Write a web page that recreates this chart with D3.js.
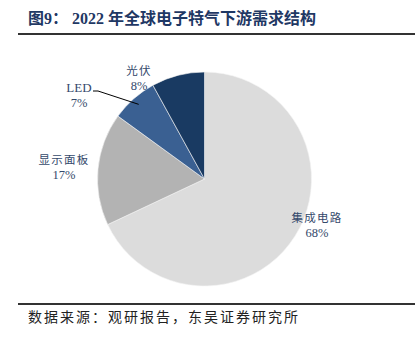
<!DOCTYPE html>
<html><head><meta charset="utf-8">
<script src="https://cdn.jsdelivr.net/npm/d3@7"></script>
<style>body{margin:0;background:#fff}</style>
</head><body>
<svg id="c" width="419" height="346"></svg>
<script>
const categories = ["集成电路", "显示面板", "LED", "光伏"];
const values = [68, 17, 7, 8];
const labels = ["68%", "17%", "7%", "8%"];
const colors = ["#dcdcdc", "#b3b3b3", "#3a6092", "#193a62"];

const svg = d3.select("#c");
const serif = "'Liberation Serif','Times New Roman','Noto Sans CJK SC',serif";

svg.append("text").attr("x", 28).attr("y", 24)
  .attr("font-family", serif).attr("font-weight", "bold").attr("font-size", 16)
  .attr("fill", "#1f3864").text("图9： 2022 年全球电子特气下游需求结构");
svg.append("line").attr("x1", 18).attr("x2", 415).attr("y1", 34).attr("y2", 34)
  .attr("stroke", "#333").attr("stroke-width", 2);
svg.append("line").attr("x1", 18).attr("x2", 415).attr("y1", 304).attr("y2", 304)
  .attr("stroke", "#333").attr("stroke-width", 2);
svg.append("text").attr("x", 28).attr("y", 322)
  .attr("font-family", serif).attr("font-size", 14).attr("letter-spacing", 2)
  .attr("fill", "#222").text("数据来源：观研报告，东吴证券研究所");

const cx = 204.5, cy = 179, r = 107;
const pie = d3.pie().sort(null).value(d => d)(values);
const arc = d3.arc().innerRadius(0).outerRadius(r);
const g = svg.append("g").attr("transform", `translate(${cx},${cy})`);
g.selectAll("path").data(pie).join("path")
  .attr("d", arc).attr("fill", (d, i) => colors[i])
  .attr("stroke", "#f4f4f4").attr("stroke-width", 0.6);

const labelPos = [[317, 222], [64, 164], [79, 92], [139, 75]];
const lab = svg.append("g").attr("font-family", serif).attr("fill", "#34496b")
  .attr("text-anchor", "middle");
categories.forEach((c, i) => {
  const [x, y] = labelPos[i];
  const isLatin = /^[A-Za-z]+$/.test(c);
  lab.append("text").attr("x", x).attr("y", y).attr("font-size", isLatin ? 13 : 11.5)
    .attr("letter-spacing", isLatin ? 0 : 1.2).text(c);
  lab.append("text").attr("x", x).attr("y", y + 15).attr("font-size", 12.5).text(labels[i]);
});
const ledArc = pie[2];
const mid = (ledArc.startAngle + ledArc.endAngle) / 2;
const px = cx + Math.sin(mid) * r * 0.93, py = cy - Math.cos(mid) * r * 0.93;
svg.append("path").attr("d", `M93,91 L98,91 L${px},${py}`)
  .attr("fill", "none").attr("stroke", "#000").attr("stroke-width", 1);
</script>
</body></html>
